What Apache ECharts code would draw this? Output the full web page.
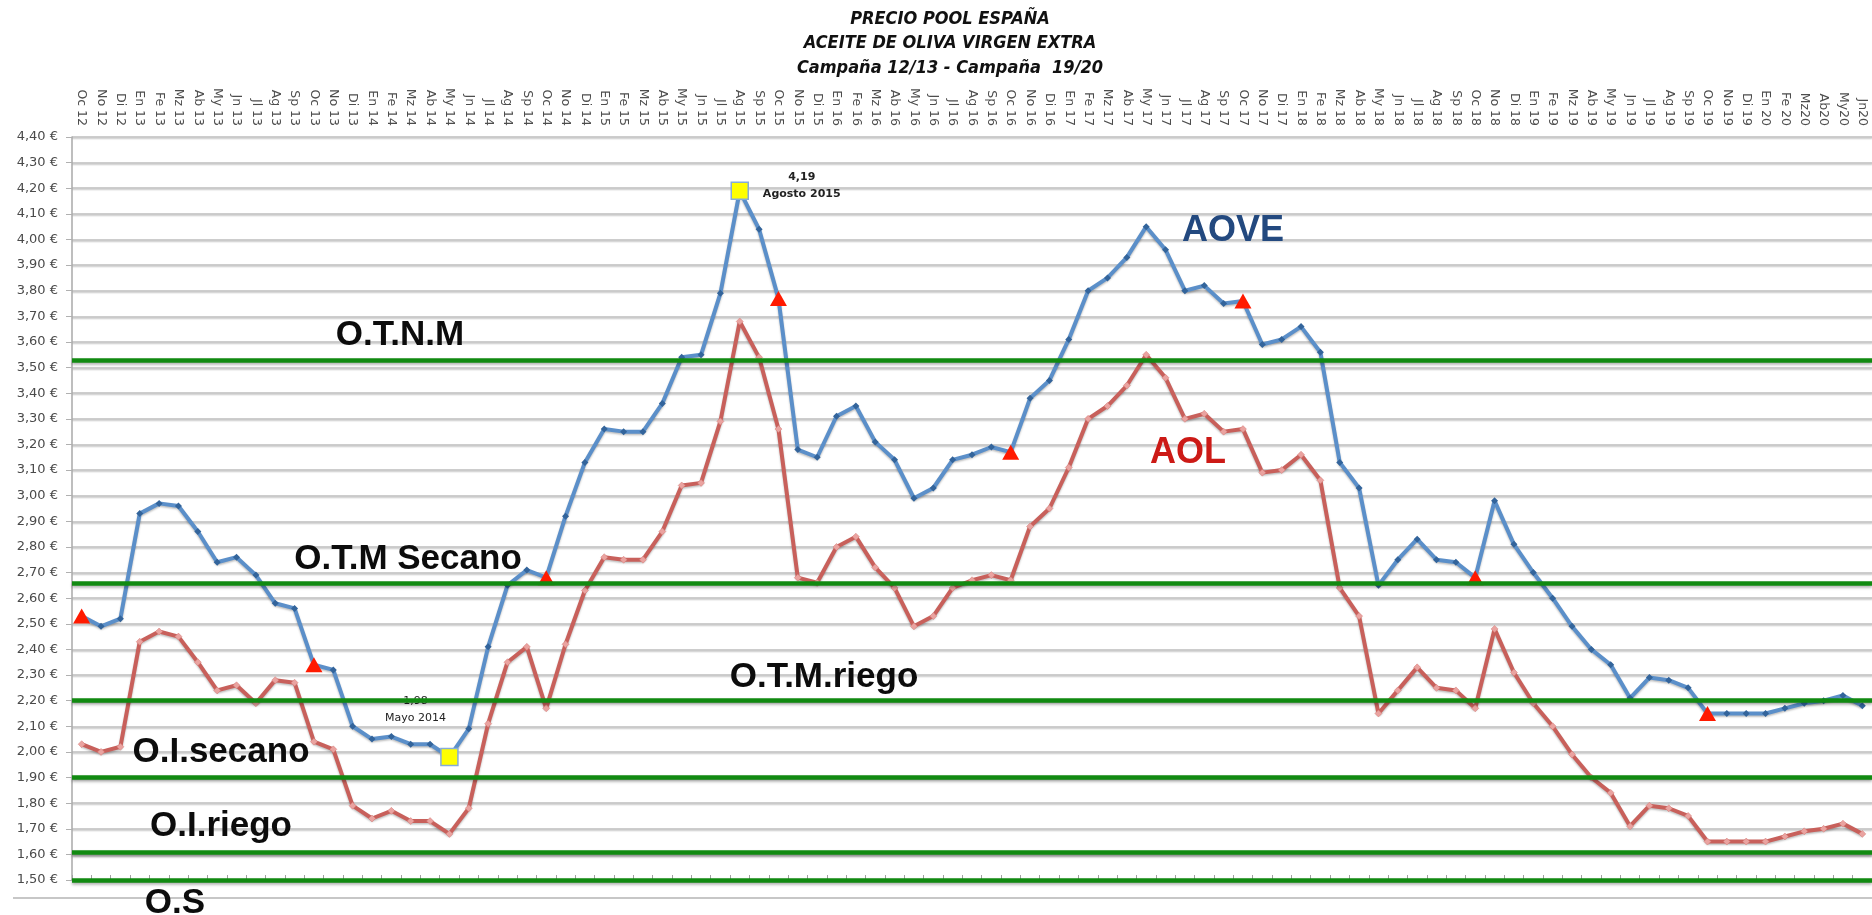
<!DOCTYPE html>
<html>
<head>
<meta charset="utf-8">
<title>Precio Pool España - AOVE / AOL</title>
<script src="https://cdn.jsdelivr.net/npm/echarts@6/dist/echarts.min.js"></script>
<style>
html, body { margin: 0; padding: 0; background: #fff; }
#poolChart { width: 1872px; height: 915px; }
</style>
</head>
<body>
<div id="poolChart"></div>
<script>
let meses = [
    "Oc 12", "No 12", "Di 12",
    "En 13", "Fe 13", "Mz 13", "Ab 13", "My 13", "Jn 13", "Jl 13", "Ag 13", "Sp 13", "Oc 13", "No 13", "Di 13",
    "En 14", "Fe 14", "Mz 14", "Ab 14", "My 14", "Jn 14", "Jl 14", "Ag 14", "Sp 14", "Oc 14", "No 14", "Di 14",
    "En 15", "Fe 15", "Mz 15", "Ab 15", "My 15", "Jn 15", "Jl 15", "Ag 15", "Sp 15", "Oc 15", "No 15", "Di 15",
    "En 16", "Fe 16", "Mz 16", "Ab 16", "My 16", "Jn 16", "Jl 16", "Ag 16", "Sp 16", "Oc 16", "No 16", "Di 16",
    "En 17", "Fe 17", "Mz 17", "Ab 17", "My 17", "Jn 17", "Jl 17", "Ag 17", "Sp 17", "Oc 17", "No 17", "Di 17",
    "En 18", "Fe 18", "Mz 18", "Ab 18", "My 18", "Jn 18", "Jl 18", "Ag 18", "Sp 18", "Oc 18", "No 18", "Di 18",
    "En 19", "Fe 19", "Mz 19", "Ab 19", "My 19", "Jn 19", "Jl 19", "Ag 19", "Sp 19", "Oc 19", "No 19", "Di 19",
    "En 20", "Fe 20", "Mz20", "Ab20", "My20", "Jn20"
];

// €/kg, aceite de oliva virgen extra
let aove = [
    2.53, 2.49, 2.52, 2.93, 2.97, 2.96, 2.86, 2.74, 2.76, 2.69, 2.58, 2.56,
    2.34, 2.32, 2.10, 2.05, 2.06, 2.03, 2.03, 1.98, 2.09, 2.41, 2.65, 2.71,
    2.68, 2.92, 3.13, 3.26, 3.25, 3.25, 3.36, 3.54, 3.55, 3.79, 4.19, 4.04,
    3.77, 3.18, 3.15, 3.31, 3.35, 3.21, 3.14, 2.99, 3.03, 3.14, 3.16, 3.19,
    3.17, 3.38, 3.45, 3.61, 3.80, 3.85, 3.93, 4.05, 3.96, 3.80, 3.82, 3.75,
    3.76, 3.59, 3.61, 3.66, 3.56, 3.13, 3.03, 2.65, 2.75, 2.83, 2.75, 2.74,
    2.68, 2.98, 2.81, 2.70, 2.60, 2.49, 2.40, 2.34, 2.21, 2.29, 2.28, 2.25,
    2.15, 2.15, 2.15, 2.15, 2.17, 2.19, 2.20, 2.22, 2.18
];

// €/kg, aceite de oliva lampante
let aol = [
    2.03, 2.00, 2.02, 2.43, 2.47, 2.45, 2.35, 2.24, 2.26, 2.19, 2.28, 2.27,
    2.04, 2.01, 1.79, 1.74, 1.77, 1.73, 1.73, 1.68, 1.78, 2.11, 2.35, 2.41,
    2.17, 2.42, 2.63, 2.76, 2.75, 2.75, 2.86, 3.04, 3.05, 3.29, 3.68, 3.54,
    3.26, 2.68, 2.66, 2.80, 2.84, 2.72, 2.64, 2.49, 2.53, 2.64, 2.67, 2.69,
    2.67, 2.88, 2.95, 3.11, 3.30, 3.35, 3.43, 3.55, 3.46, 3.30, 3.32, 3.25,
    3.26, 3.09, 3.10, 3.16, 3.06, 2.64, 2.53, 2.15, 2.24, 2.33, 2.25, 2.24,
    2.17, 2.48, 2.31, 2.19, 2.10, 1.99, 1.90, 1.84, 1.71, 1.79, 1.78, 1.75,
    1.65, 1.65, 1.65, 1.65, 1.67, 1.69, 1.70, 1.72, 1.68
];

// costes de producción por tipo de olivar
let umbralNombres = ["O.T.N.M", "O.T.M Secano", "O.T.M.riego", "O.I.secano", "O.I.riego", "O.S"];
let umbralValores = [3.53, 2.66, 2.20, 1.90, 1.61, 1.50];

let destacados = ["My 14", "Ag 15"];
let destacadosTexto = ["1,98\nMayo 2014", "4,19\nAgosto 2015"];

// --- layout (px) ---
let rotuloPos = {
    "O.T.N.M": [400, 335],
    "O.T.M Secano": [408, 559],
    "O.T.M.riego": [824, 677],
    "O.I.secano": [221, 752],
    "O.I.riego": [221, 826],
    "O.S": [175, 903],
};
let notaOffset = {
    "My 14": [-34, -47],
    "Ag 15": [62, -5],
};

let aoveData = aove.map((v, i) => {
    let mes = meses[i];
    let k = destacados.indexOf(mes);
    if (k >= 0) {
        return {
            value: v,
            symbol: "rect",
            symbolSize: 17,
            itemStyle: {color: "#ffff00", borderColor: "#86acd8", borderWidth: 1.5},
            label: {
                show: true,
                position: "inside",
                offset: notaOffset[mes],
                formatter: destacadosTexto[k],
                align: "center",
                verticalAlign: "middle",
                fontFamily: "'DejaVu Sans', sans-serif",
                fontSize: 11,
                lineHeight: 17,
                fontWeight: mes === "Ag 15" ? "bold" : "normal",
                color: "#222",
            },
        };
    }
    if (mes.indexOf("Oc") === 0) {
        return {
            value: v,
            symbol: "triangle",
            symbolSize: [17, 15],
            itemStyle: {color: "#ff1a00", borderWidth: 0},
        };
    }
    return v;
});

let graficos = [
    {type: "line", shape: {x1: 13, y1: 898, x2: 1872, y2: 898}, style: {stroke: "#b4b4b4", lineWidth: 1.5}, z: 1},
];
let titulo = ["PRECIO POOL ESPAÑA", "ACEITE DE OLIVA VIRGEN EXTRA", "Campaña 12/13 - Campaña  19/20"];
titulo.forEach((t, i) => {
    graficos.push({
        type: "text", x: 950, y: 19 + i * 24.5, z: 10,
        style: {
            text: t, align: "center", verticalAlign: "middle", textAlign: "center", textVerticalAlign: "middle",
            font: "italic bold 18px 'Liberation Sans Narrow', 'DejaVu Sans Condensed', sans-serif", fill: "#111",
        },
    });
});
umbralNombres.forEach(n => {
    graficos.push({
        type: "text", x: rotuloPos[n][0], y: rotuloPos[n][1], z: 10,
        style: {
            text: n, align: "center", verticalAlign: "middle", textAlign: "center", textVerticalAlign: "middle",
            font: "bold 35px 'Liberation Sans', Arial, sans-serif", fill: "#0c0c0c",
        },
    });
});
graficos.push({
    type: "text", x: 1233, y: 231, z: 10,
    style: {text: "AOVE", align: "center", verticalAlign: "middle", textAlign: "center", textVerticalAlign: "middle",
        font: "bold 36px 'Liberation Sans', Arial, sans-serif", fill: "#23497f"},
});
graficos.push({
    type: "text", x: 1188, y: 453, z: 10,
    style: {text: "AOL", align: "center", verticalAlign: "middle", textAlign: "center", textVerticalAlign: "middle",
        font: "bold 36px 'Liberation Sans', Arial, sans-serif", fill: "#cc1a16"},
});

let options = {
    animation: false,
    backgroundColor: "#fff",
    grid: {
        left: 72,
        right: 0,
        top: 137,
        bottom: 35,
    },
    xAxis: [
        {
            type: "category",
            position: "top",
            data: meses,
            axisLine: {show: false},
            axisTick: {show: false},
            axisLabel: {
                interval: 0,
                rotate: 90,
                margin: 11,
                fontSize: 12.5,
                fontFamily: "'DejaVu Sans', sans-serif",
                color: "#4d4d4d",
            },
            splitLine: {show: false},
        },
        {
            type: "category",
            position: "bottom",
            data: meses,
            axisLine: {show: true, lineStyle: {color: "#9c9c9c", width: 1.5}},
            axisTick: {show: true, inside: true, length: 5, interval: 0, lineStyle: {color: "#a0a0a0"}},
            axisLabel: {show: false},
            splitLine: {show: false},
        },
    ],
    yAxis: {
        type: "value",
        min: 1.5,
        max: 4.4,
        interval: 0.1,
        axisLine: {show: true, lineStyle: {color: "#a8a8a8", width: 1.5}},
        axisTick: {show: true, length: 6, lineStyle: {color: "#b0b0b0"}},
        axisLabel: {
            margin: 14,
            fontSize: 13,
            fontFamily: "'DejaVu Sans', sans-serif",
            color: "#4a4a4a",
            formatter: v => v.toFixed(2).replace(".", ",") + " €",
        },
        splitLine: {
            show: true,
            lineStyle: {color: "#bcbcbc", width: 1.5, shadowColor: "rgba(0,0,0,0.18)", shadowBlur: 1, shadowOffsetY: 1.5},
        },
    },
    graphic: graficos,
    series: [
        {
            name: "umbrales",
            type: "line",
            data: [],
            z: 1,
            markLine: {
                silent: true,
                symbol: ["none", "none"],
                label: {show: false},
                lineStyle: {
                    type: "solid",
                    color: "#118a11",
                    width: 4.5,
                    shadowColor: "rgba(0,0,0,0.3)",
                    shadowBlur: 3,
                    shadowOffsetY: 2,
                },
                data: umbralValores.map(v => ({yAxis: v})),
            },
        },
        {
            name: "AOL",
            type: "line",
            data: aol,
            z: 3,
            symbol: "diamond",
            symbolSize: 7,
            showAllSymbol: true,
            lineStyle: {color: "#c8605b", width: 4, shadowColor: "rgba(0,0,0,0.25)", shadowBlur: 2, shadowOffsetY: 1.5},
            itemStyle: {color: "#eaa3a0", borderColor: "#d57b77", borderWidth: 0.5},
        },
        {
            name: "AOVE",
            type: "line",
            data: aoveData,
            z: 4,
            symbol: "diamond",
            symbolSize: 7,
            showAllSymbol: true,
            lineStyle: {color: "#5b8fc9", width: 4, shadowColor: "rgba(0,0,0,0.25)", shadowBlur: 2, shadowOffsetY: 1.5},
            itemStyle: {color: "#33649b"},
        },
    ],
};

let chart = window.echarts.init(document.querySelector("#poolChart"));
chart.setOption(options);
window.addEventListener("resize", () => chart.resize());
</script>
</body>
</html>
